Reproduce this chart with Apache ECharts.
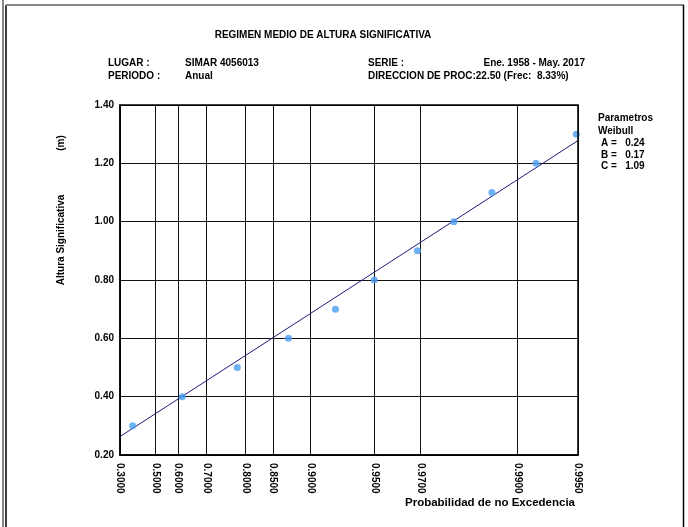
<!DOCTYPE html>
<html><head><meta charset="utf-8">
<script src="https://cdn.jsdelivr.net/npm/echarts@6/dist/echarts.min.js"></script>
<style>html,body{margin:0;padding:0;background:#fff}#c{width:688px;height:527px}</style>
</head><body><div id="c"></div>
<script>
// Weibull parameters (as printed)
var paramA = 0.24, paramB = 0.17, paramC = 1.09;
// Tick probabilities and their labels
var tickProbs = [0.30, 0.50, 0.60, 0.70, 0.80, 0.85, 0.90, 0.95, 0.97, 0.99, 0.995];
var tickLabels = ['0.3000','0.5000','0.6000','0.7000','0.8000','0.8500','0.9000','0.9500','0.9700','0.9900','0.9950'];
// Observed points: non-exceedance probability vs height
var pointProbs = [0.378, 0.617, 0.782, 0.873, 0.9235, 0.950, 0.969, 0.9794, 0.9866, 0.9919, 0.9949];
var pointHeights = [0.30, 0.40, 0.50, 0.60, 0.70, 0.80, 0.90, 1.00, 1.10, 1.20, 1.30];
var yTicks = ['0.20','0.40','0.60','0.80','1.00','1.20','1.40'];

function u(F){ return Math.pow(-Math.log(1 - F), 1 / paramC); }
var tickU = tickProbs.map(u);
var uMin = tickU[0], uMax = tickU[tickU.length - 1];
var pts = pointProbs.map(function(p, i){ return [u(p), pointHeights[i]]; });
var fit = [[uMin, paramB + paramA * uMin], [uMax, paramB + paramA * uMax]];

var FF = '"Liberation Sans", Arial, sans-serif';
var chart = echarts.init(document.getElementById('c'));
function txt(x, y, s, size, align, extra){
  var o = {type:'text', x:x, y:y, silent:true,
    style:{text:s, fill:'#000', font:'bold ' + (size||10) + 'px ' + FF, textAlign:align||'left', textVerticalAlign:'middle'}};
  if (extra) for (var k in extra) o[k] = extra[k];
  return o;
}
chart.setOption({
  animation:false,
  backgroundColor:'#fff',
  grid:{left:120, top:105, width:458, height:350, show:false},
  xAxis:{type:'value', min:uMin, max:uMax,
    axisLine:{show:true, onZero:false, lineStyle:{color:'#000', width:1.5}},
    axisTick:{show:false, customValues:tickU},
    splitLine:{show:true, lineStyle:{color:'#111', width:1}},
    axisLabel:{customValues:tickU, rotate:-90, margin:8, color:'#000', fontWeight:'bold', fontSize:10, fontFamily:FF,
      formatter:function(v){
        var best=0, d=1e9;
        for (var i=0;i<tickU.length;i++){ var dd=Math.abs(tickU[i]-v); if(dd<d){d=dd;best=i;} }
        return tickLabels[best];
      }}
  },
  yAxis:{type:'value', min:0.2, max:1.4, interval:0.2,
    axisLine:{show:true, lineStyle:{color:'#000', width:1.5}},
    axisTick:{show:false},
    splitLine:{show:true, lineStyle:{color:'#111', width:1}},
    axisLabel:{margin:6, color:'#000', fontWeight:'bold', fontSize:10, fontFamily:FF,
      formatter:function(v){ return v.toFixed(2); }}
  },
  series:[
    {type:'line', data:fit, symbol:'none', lineStyle:{color:'#1c1c7a', width:1}, z:3},
    {type:'scatter', data:pts, symbol:'circle', symbolSize:7, itemStyle:{color:'#4a9ff0'}, z:4}
  ],
  graphic:[
    // top/right frame lines
    {type:'rect', shape:{x:120, y:105, width:458, height:350}, style:{fill:'none', stroke:'#000', lineWidth:1.5}, silent:true, z:10},
    {type:'line', shape:{x1:3, y1:0, x2:3, y2:527}, style:{stroke:'#888', lineWidth:2}, silent:true},
    {type:'line', shape:{x1:6, y1:5, x2:6, y2:527}, style:{stroke:'#000', lineWidth:1.5}, silent:true},
    {type:'line', shape:{x1:6, y1:5, x2:684, y2:5}, style:{stroke:'#888', lineWidth:2}, silent:true},
    {type:'line', shape:{x1:683.5, y1:5, x2:683.5, y2:527}, style:{stroke:'#000', lineWidth:1.5}, silent:true},
    txt(323, 35, 'REGIMEN MEDIO DE ALTURA SIGNIFICATIVA', 10, 'center'),
    txt(108, 63, 'LUGAR :'),
    txt(185, 63, 'SIMAR 4056013'),
    txt(368, 63, 'SERIE :'),
    txt(585, 63, 'Ene. 1958 - May. 2017', 10, 'right'),
    txt(108, 76, 'PERIODO :'),
    txt(185, 76, 'Anual'),
    txt(368, 76, 'DIRECCION DE PROC:22.50 (Frec:  8.33%)'),
    txt(598, 118, 'Parametros'),
    txt(598, 131, 'Weibull'),
    txt(601, 143, 'A =   0.24'),
    txt(601, 155, 'B =   0.17'),
    txt(601, 166, 'C =   1.09'),
    txt(405, 503, 'Probabilidad de no Excedencia', 11.5),
    txt(61, 240, 'Altura Significativa', 10, 'center', {rotation:Math.PI/2}),
    txt(61, 143, '(m)', 10, 'center', {rotation:Math.PI/2})
  ]
});
</script></body></html>
